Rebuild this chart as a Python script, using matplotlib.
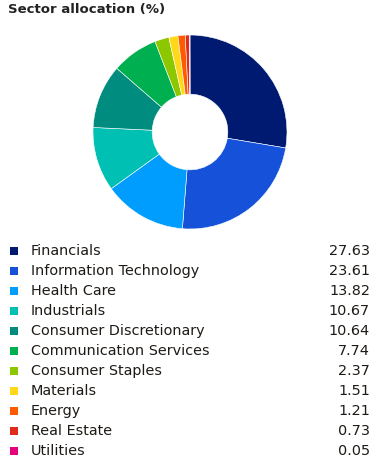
import matplotlib
matplotlib.use("Agg")
import matplotlib.pyplot as plt

sectors = ['Financials', 'Information Technology', 'Health Care', 'Industrials',
           'Consumer Discretionary', 'Communication Services', 'Consumer Staples',
           'Materials', 'Energy', 'Real Estate', 'Utilities']
weights = [27.63, 23.61, 13.82, 10.67, 10.64, 7.74, 2.37, 1.51, 1.21, 0.73, 0.05]
colors = ['#001a72', '#1652d9', '#009dff', '#00bfb3', '#008c7e', '#00b050',
          '#8dc700', '#ffd81a', '#ff5a00', '#e02a1e', '#e5007e']

W, H = 376, 463
fig = plt.figure(figsize=(W / 100, H / 100), dpi=100)

# donut
ax = fig.add_axes([93 / W, (H - 229) / H, 194 / W, 194 / H])
ax.pie(weights, colors=colors, startangle=90, counterclock=False,
       wedgeprops=dict(width=0.61, edgecolor='white', linewidth=0.4))
ax.set_xlim(-1, 1)
ax.set_ylim(-1, 1)
ax.set_aspect('equal')

# legend / table in pixel coordinates
lg = fig.add_axes([0, 0, 1, 1])
lg.set_xlim(0, W)
lg.set_ylim(H, 0)
lg.axis('off')

lg.text(8, 10, 'Sector allocation (%)', fontsize=9.5, fontweight='bold',
        color='#222222', va='center', ha='left')

y0, dy = 251, 20
ys = [y0 + i * dy for i in range(len(sectors))]
lg.scatter([14] * len(sectors), ys, marker='s', s=30, c=colors, linewidths=0)
for y, name, val in zip(ys, sectors, weights):
    lg.text(31, y, name, fontsize=10.4, color='#1e1a16', va='center', ha='left')
    lg.text(370, y, f'{val:.2f}', fontsize=10.4, color='#1e1a16', va='center', ha='right')

fig.savefig('out.png', dpi=100)
